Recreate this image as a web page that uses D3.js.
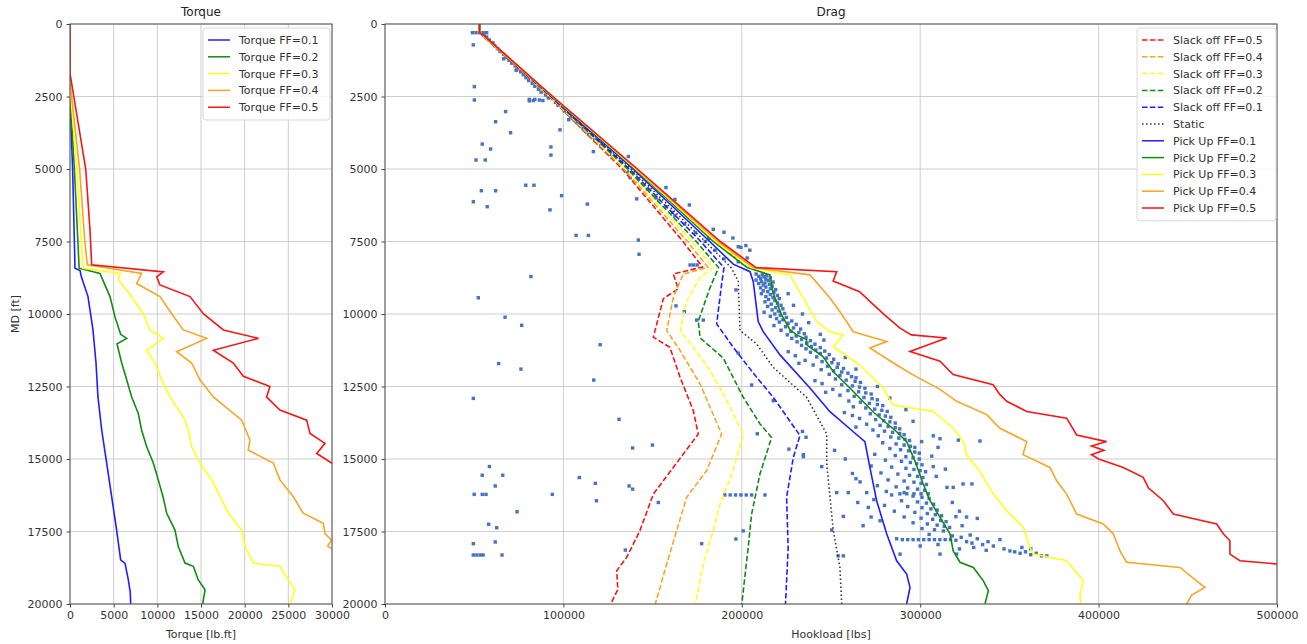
<!DOCTYPE html>
<html>
<head>
<meta charset="utf-8">
<script src="https://cdn.jsdelivr.net/npm/d3@7"></script>
<style>
  body { margin: 0; background: #fff; }
  text { font-family: "DejaVu Sans", sans-serif; }
</style>
</head>
<body>
<svg id="chart" width="1307" height="644"></svg>
<script>
// ---- data: [MD ft, value] ----
const mdTicks = [0, 2500, 5000, 7500, 10000, 12500, 15000, 17500, 20000];
const torqueTicks = [0, 5000, 10000, 15000, 20000, 25000, 30000];
const hookTicks = [0, 100000, 200000, 300000, 400000, 500000];

const torque01 = [[0,0],[2600,0],[5000,300],[7500,500],[8420,570],[8500,1150],[8720,1300],[9400,2060],[10550,2630],[11690,2980],[12860,3200],[14000,3630],[15140,4200],[16300,4770],[17450,5340],[18480,5800],[18600,6300],[19170,6680],[19600,6900],[20000,6950]];
const torque02 = [[0,0],[2400,0],[5000,500],[7500,900],[8420,1050],[8600,3430],[9400,4580],[10100,5150],[10700,5800],[10840,6490],[11030,5380],[11690,5920],[12270,6490],[12860,7060],[13430,7820],[14000,8200],[14580,8780],[15140,9540],[15720,10110],[16300,10650],[16870,11070],[17450,12020],[18020,12400],[18590,13170],[18700,14120],[19170,14690],[19510,15460],[20000,15190]];
const torque03 = [[0,0],[2200,0],[5000,800],[7500,1300],[8420,1500],[8600,5730],[8830,5530],[9400,7060],[9990,8390],[10550,9160],[10840,10690],[11250,8780],[11690,9730],[12270,10500],[12860,11450],[13660,13170],[14000,13550],[14580,13930],[15140,14890],[15720,16220],[16300,17180],[16870,18130],[17450,19660],[18020,20040],[18590,20990],[18700,24050],[19170,25000],[19510,25770],[20000,25200]];
const torque04 = [[0,0],[2000,0],[5000,1100],[7500,1700],[8300,1980],[8600,8200],[8950,7630],[9400,10300],[9990,11640],[10550,12970],[10840,15650],[11300,12210],[11690,13930],[12270,14880],[12860,16410],[13660,19660],[14350,20610],[14690,20400],[15140,23280],[15720,24040],[16300,25570],[16870,26710],[17220,29000],[17570,29200],[17800,29960],[18000,29500],[18200,30500],[20000,33000]];
const torque05 = [[0,0],[1700,0],[5000,1800],[7100,2290],[8300,2480],[8550,10690],[8720,9930],[9000,10300],[9400,13740],[9990,15270],[10550,17560],[10840,21570],[11250,16410],[11690,18700],[12150,19850],[12500,22900],[12860,22500],[13310,24040],[13660,27100],[14120,27480],[14460,29200],[14810,28250],[15140,29960],[15300,30500],[20000,38000]];

const slack05 = [[0,53000],[300,53000],[2500,92000],[5000,133000],[7500,167000],[8380,178000],[8620,161600],[9130,164400],[9470,156000],[10800,150400],[11150,159700],[12180,165400],[13330,172800],[14140,175600],[15290,161600],[16210,150400],[17470,142900],[18390,135500],[18850,129900],[19500,130500],[20000,126500]];
const slack04 = [[0,53000],[300,53000],[2500,92300],[5000,134000],[7500,169500],[8390,181000],[8620,167200],[9430,161600],[10570,157900],[11260,165400],[12410,176600],[14140,188700],[15400,180300],[16320,169100],[17470,163500],[18620,157900],[20000,151500]];
const slack03 = [[0,53000],[300,53000],[2500,92600],[5000,135000],[7500,172000],[8400,184000],[8740,176600],[9550,169100],[10570,165400],[11150,172800],[11950,182200],[12980,191500],[14140,200800],[15400,195200],[16550,187800],[17470,184000],[18620,178400],[20000,174000]];
const slack02 = [[0,53000],[300,53000],[2500,92900],[5000,136000],[7500,174500],[8400,187000],[9090,182200],[10250,175600],[10820,176600],[11520,189600],[12870,200800],[13790,210200],[14260,216700],[15510,210200],[16900,205500],[18040,203600],[20000,200000]];
const slack01 = [[0,53000],[300,53000],[2500,93100],[5000,137000],[7500,177000],[8400,190000],[8970,188700],[10340,185900],[11150,195200],[12180,208300],[12870,217600],[14190,232600],[14940,228900],[16320,225100],[18040,226000],[20000,224500]];
const staticLoad = [[0,53000],[300,53000],[2500,93300],[5000,138000],[7500,179500],[8400,194000],[8850,198000],[10570,199000],[11030,208300],[11840,217600],[12870,236300],[14140,247600],[15170,247600],[17470,251300],[18740,255000],[20000,256000]];
const pickup01 = [[0,53000],[300,53000],[2500,93500],[5000,139000],[7500,182000],[8280,195200],[8540,204600],[8880,206400],[10260,209200],[10610,212000],[11410,221400],[12550,238200],[13370,249400],[14060,262500],[14400,269000],[15290,271800],[16440,275600],[17580,281200],[18510,286800],[18970,292400],[19430,294300],[20000,292400]];
const pickup02 = [[0,53000],[300,53000],[2500,93700],[5000,140000],[7500,184000],[8400,203000],[8650,215800],[9280,217600],[10030,222300],[10540,227000],[10720,230700],[10880,236300],[11050,236000],[11470,245500],[11990,251300],[12550,260600],[13380,273700],[14060,286800],[14400,292400],[15060,297000],[15860,301700],[16440,305500],[17010,311100],[17580,316700],[18170,318500],[18560,322300],[18740,329800],[19200,335400],[19540,338200],[20000,336300]];
const pickup03 = [[0,53000],[300,53000],[2500,93800],[5000,140500],[7500,185500],[8400,205000],[8650,227000],[9450,234500],[10260,242000],[10610,249400],[10720,256900],[11130,251300],[11760,266200],[12550,279200],[13140,284800],[13360,307300],[13940,318500],[14400,324100],[14850,326000],[15430,333500],[16210,341000],[16780,348400],[17350,357800],[18050,361500],[18280,363400],[18510,382100],[19200,391400],[19660,389500],[20000,390000]];
const pickup04 = [[0,53000],[300,53000],[2500,93900],[5000,141000],[7500,186500],[8400,206500],[8650,238200],[9450,249400],[9920,255000],[10610,262500],[10950,281200],[11170,271800],[11760,286800],[12100,296000],[12600,311100],[13010,320400],[13470,337300],[13940,344700],[14400,359700],[14850,357600],[15290,372700],[15750,376500],[16210,382100],[16900,387700],[17240,402600],[17580,408200],[18170,412000],[18560,415700],[18740,445600],[19200,454900],[19430,459600],[19700,452000],[20000,449400]];
const pickup05 = [[0,53000],[300,53000],[400,55500],[2500,94000],[5000,141500],[7500,188000],[8400,208000],[8540,253200],[8860,251200],[9230,266000],[9550,271500],[10030,280000],[10480,288500],[10720,295000],[10830,314800],[11290,294300],[11630,311100],[12090,318500],[12440,340900],[12780,344700],[13010,348500],[13360,359700],[13590,382100],[14170,387700],[14400,404500],[14550,396000],[14700,403000],[14850,396000],[15000,400000],[15290,413800],[15630,425000],[16000,428000],[16440,436300],[16900,441900],[17240,466200],[17580,469900],[17820,473600],[18280,473600],[18510,479200],[18620,500000],[20000,530000]];

// measured hookload points [MD, lbs]
const measured = [
  [300,49000],[300,51000],[300,53000],[300,55000],[300,57000],[350,55500],[450,57000],[550,58500],[650,60500],[750,61500],[850,63000],[950,64500],[1050,66500],[1150,68000],[1250,69500],[1350,71000],[1450,73000],[1550,74000],[1650,76000],[1750,77500],[1850,79000],[1950,80500],[2050,82500],[2150,84000],[2250,86000],[2350,87500],[2450,90000],[2550,91500],[2600,84000],[2620,86500],[2640,88500],[2650,80900],[2700,95500],[1200,66500],[1600,73500],[2000,83000],
  [720,49500],[2160,50100],[2620,50100],[3020,67600],[3370,62000],[3750,70400],[4140,54500],[4310,59200],[4690,51000],[4690,56200],[5750,54000],[5750,62000],[6130,49500],[6300,57300],[5560,78900],[5560,83500],[6410,92500],[5920,99000],[6210,113400],[4240,93000],[4520,93000],[3650,98100],[7290,107100],[7290,114000],[8710,81800],[9440,52300],[2600,80900],[2640,83100],[7940,142400],[6030,141100],[5640,157500],[6050,162500],[6240,170600],[7180,190000],[7640,202300],[7680,198000],[7080,184000],[4570,136400],[4400,116800],[7450,142000],
  [2800,97000],[3000,100500],[3200,104000],[3400,107500],[3600,111000],[3800,114000],[4000,117500],[4200,121000],[4500,126000],[4800,131500],[5100,136000],[5400,141500],[5700,147000],[6000,152000],[6300,157500],[6600,162500],[6900,168000],[7200,174000],[7500,179500],[7800,185000],[8100,190000],[3300,103000],[4100,121500],[5300,137500],[6500,161000],[7400,181500],[7900,194000],[8000,196500],[8200,198000],[8310,171000],[8310,173000],[8310,175000],[7380,195000],[7700,199500],[8070,203000],[7800,204500],
  [8620,208000],[8650,211500],[8680,214000],[8700,209500],[8720,212500],[8750,216000],[8780,210500],[8800,213500],[8830,208000],[8850,215000],[8880,211000],[8900,217500],[8930,213000],[8950,209500],[8980,215500],[9000,212000],
  [9040,217000],[9070,213500],[9100,210500],[9130,216000],[9160,219000],[9200,212000],[9230,214500],[9260,218000],[9300,211000],[9330,216000],[9360,220000],[9400,213500],[9430,217500],[9470,221000],[9500,215000],[9540,218500],[9580,213000],[9620,220000],[9660,216500],[9700,222000],[9740,214500],[9780,219000],[9820,223000],[9860,217000],[9900,220500],[9940,212500],[9980,224000],[10000,218500],[9300,226000],[9700,229000],[10000,234000],
  [10040,221500],[10080,216000],[10120,225000],[10160,219500],[10200,223000],[10240,228000],[10280,221000],[10320,226000],[10360,230500],[10400,218000],[10440,224500],[10480,229000],[10520,233000],[10560,222000],[10600,227500],[10640,232000],[10680,235000],[10720,225500],[10760,230500],[10800,236000],[10840,228000],[10880,233500],[10920,238500],[10960,231000],[11000,236500],[10300,237500],[10700,244000],[10900,246000],
  [11040,241000],[11080,233500],[11120,239000],[11160,244000],[11200,236000],[11240,241500],[11280,246500],[11320,238500],[11360,244000],[11400,249000],[11440,230000],[11480,242000],[11520,247500],[11560,251500],[11600,235500],[11640,245000],[11680,250500],[11720,254000],[11760,240000],[11800,248000],[11840,253500],[11880,257000],[11920,244500],[11960,251500],[12000,256000],[11300,226000],[11700,232000],[11500,258000],[11900,264000],
  [12040,259500],[12080,249000],[12120,255000],[12160,261500],[12200,264000],[12240,252500],[12280,258500],[12320,263500],[12360,266500],[12400,245000],[12440,256000],[12480,262000],[12520,266000],[12560,269000],[12600,251000],[12640,259500],[12680,265500],[12720,269500],[12760,272500],[12800,255000],[12840,263000],[12880,268500],[12920,273000],[12960,276000],[13000,260000],[12300,241000],[12700,247000],[12500,276000],[12900,283000],
  [13040,266500],[13080,271500],[13120,276000],[13160,279000],[13200,262500],[13240,269500],[13280,274500],[13320,278500],[13360,281500],[13400,257500],[13440,272000],[13480,277000],[13520,280500],[13560,283500],[13600,266000],[13640,275000],[13680,279500],[13720,283000],[13760,286000],[13800,270000],[13840,277500],[13880,282000],[13920,286000],[13960,288500],[14000,273500],[13300,292000],[13700,296000],[13500,262000],[13900,264000],
  [14040,280000],[14080,284500],[14120,288500],[14160,291000],[14200,276500],[14240,283500],[14280,288000],[14320,291500],[14360,294000],[14400,300800],[14440,279000],[14480,286500],[14520,291000],[14560,294500],[14600,297000],[14640,283000],[14680,289000],[14720,293500],[14760,297000],[14800,299500],[14840,274500],[14880,286000],[14920,292000],[14960,296000],[15000,299500],[14200,307300],[14300,311100],[14350,321400],[14380,333500],[14600,310000],[14900,306500],
  [14050,234000],[14250,236000],[14850,234500],[14130,208700],[14660,226400],[14920,234500],
  [15040,280500],[15080,289500],[15120,294500],[15160,298000],[15200,301000],[15240,272500],[15280,284000],[15320,292000],[15360,296500],[15400,300000],[15440,303000],[15480,278000],[15520,287500],[15560,294000],[15600,298500],[15640,301500],[15680,264000],[15720,282000],[15760,291000],[15800,296500],[15840,300500],[15880,303500],[15920,276000],[15960,286500],[16000,293000],[15263,307300],[15350,314100],[15600,309000],[15860,324000],[15860,329000],[15980,315000],[15980,318500],
  [16040,298500],[16080,302500],[16120,281000],[16160,291000],[16200,288600],[16200,292500],[16200,296500],[16200,300500],[16200,304500],[16240,284000],[16280,296000],[16320,301000],[16360,305000],[16400,274000],[16440,289500],[16480,298500],[16520,303500],[16560,307500],[16600,280000],[16640,293000],[16680,301000],[16720,306000],[16760,309500],[16800,285500],[16840,297000],[16880,304000],[16920,308500],[16960,312000],[17000,291000],[17040,300500],[17080,307000],[17120,311500],[17160,314500],[17200,296000],[17240,304000],[17280,309500],[17320,313500],[17360,316500],[17400,301000],[17440,308000],[17480,313000],[16500,318000],[16800,322000],[17000,326000],[17050,332000],[17300,323500],[16987,320000],
  [15263,244800],[16160,253200],[16160,259700],[16980,256900],[17450,250400],[15790,266300],[16160,270000],[16670,270900],[17130,277500],[15500,262000],[16500,265000],[17000,272500],[17300,268000],[15000,258000],[14700,252000],
  [17750,286800],[17780,290000],[17780,293000],[17780,296000],[17780,299000],[17780,302000],[17780,305000],[17780,308000],[17780,311000],[17780,314000],[17780,317000],[17800,320000],[17700,323000],[17850,326000],[17900,329000],[17750,332000],[17950,335000],[17850,338000],[17780,344700],[18000,341000],[18050,330000],[18100,322000],[18170,350300],[18200,353000],[18250,356000],[18200,359000],[18300,362000],[18250,365000],[18340,368000],[18340,371000],[18280,288700],[18280,311100],[18280,320400],[17950,310000],[18000,300000],[18100,347000],[18050,357000],[17650,318000],[17600,305000],[17620,328000],[18150,337000],[18340,254000],[18340,256900],[18100,362000],
  [16240,190500],[16240,193500],[16240,196500],[16240,199500],[16240,202500],[16240,205500],[16240,213000],[18310,49500],[18310,51500],[18310,53500],[18310,55000],
  [9170,196700],[9720,163100],[9920,167800],[10210,174700],[10210,178400],[11350,198000],[12450,205500],[12990,217600],[17920,177500],[17760,196700],[17480,200800],[18140,134700],[15640,108900],[15840,117900],[16440,118500],[15930,136800],[16040,138800],[16500,153200],[16820,74000],[17250,58100],[17370,62600],[17920,49500],[17860,61800],[18310,65600],[15260,58500],[15560,54500],[15560,66000],[15930,61800],[16220,50000],[16220,54500],[16220,56600],[16220,93800],[14620,138800],[14520,149900],[13630,131200],[12910,49500],[12280,117000],[11900,76200],[11710,63700],[11060,120600],[10390,76600],[10110,67300]
];

const torqueSeries = [
  { name: "Torque FF=0.1", color: "#1f1fff", values: torque01 },
  { name: "Torque FF=0.2", color: "#138a13", values: torque02 },
  { name: "Torque FF=0.3", color: "#ffff1a", values: torque03 },
  { name: "Torque FF=0.4", color: "#f5a623", values: torque04 },
  { name: "Torque FF=0.5", color: "#f01818", values: torque05 }
];
const dragSeries = [
  { name: "Slack off FF=0.5", color: "#f01818", dash: "5.5,2.4", values: slack05 },
  { name: "Slack off FF=0.4", color: "#f5a623", dash: "5.5,2.4", values: slack04 },
  { name: "Slack off FF=0.3", color: "#ffff1a", dash: "5.5,2.4", values: slack03 },
  { name: "Slack off FF=0.2", color: "#138a13", dash: "5.5,2.4", values: slack02 },
  { name: "Slack off FF=0.1", color: "#1f1fff", dash: "5.5,2.4", values: slack01 },
  { name: "Static", color: "#333333", dash: "1.5,2.5", values: staticLoad },
  { name: "Pick Up FF=0.1", color: "#1f1fff", dash: null, values: pickup01 },
  { name: "Pick Up FF=0.2", color: "#138a13", dash: null, values: pickup02 },
  { name: "Pick Up FF=0.3", color: "#ffff1a", dash: null, values: pickup03 },
  { name: "Pick Up FF=0.4", color: "#f5a623", dash: null, values: pickup04 },
  { name: "Pick Up FF=0.5", color: "#f01818", dash: null, values: pickup05 }
];

const svg = d3.select("#chart");
const plotTop = 24, plotBottom = 604;

const y = d3.scaleLinear().domain([0, 20000]).range([plotTop, plotBottom]);

function drawPanel(id, x, xTicks, title, xLabel) {
  const [x0, x1] = x.range();
  const g = svg.append("g");

  svg.append("clipPath").attr("id", "clip-" + id)
    .append("rect").attr("x", x0).attr("y", plotTop).attr("width", x1 - x0).attr("height", plotBottom - plotTop);

  // grid
  g.selectAll(".vgrid").data(xTicks).enter().append("line")
    .attr("x1", d => x(d)).attr("x2", d => x(d))
    .attr("y1", plotTop).attr("y2", plotBottom)
    .attr("stroke", "#c8c8c8").attr("stroke-width", 0.9);
  g.selectAll(".hgrid").data(mdTicks).enter().append("line")
    .attr("x1", x0).attr("x2", x1)
    .attr("y1", d => y(d)).attr("y2", d => y(d))
    .attr("stroke", "#c8c8c8").attr("stroke-width", 0.9);

  // axes
  const xAxis = g.append("g").attr("transform", `translate(0,${plotBottom})`)
    .call(d3.axisBottom(x).tickValues(xTicks).tickFormat(d3.format("d")).tickSizeInner(3.5).tickSizeOuter(0).tickPadding(4));
  const yAxis = g.append("g").attr("transform", `translate(${x0},0)`)
    .call(d3.axisLeft(y).tickValues(mdTicks).tickFormat(d3.format("d")).tickSizeInner(3.5).tickSizeOuter(0).tickPadding(4));
  [xAxis, yAxis].forEach(a => {
    a.select(".domain").remove();
    a.selectAll("line").attr("stroke", "#444");
    a.selectAll("text").attr("fill", "#333").style("font-size", "11px").style("font-family", "DejaVu Sans");
  });

  svg.append("text").attr("x", (x0 + x1) / 2).attr("y", 16)
    .attr("text-anchor", "middle").style("font-size", "12px").attr("fill", "#222").text(title);
  svg.append("text").attr("x", (x0 + x1) / 2).attr("y", 638)
    .attr("text-anchor", "middle").style("font-size", "11px").attr("fill", "#333").text(xLabel);

  const plot = svg.append("g").attr("clip-path", `url(#clip-${id})`);
  return { g, plot };
}

function drawFrame(x) {
  const [x0, x1] = x.range();
  svg.append("rect").attr("x", x0).attr("y", plotTop).attr("width", x1 - x0).attr("height", plotBottom - plotTop)
    .attr("fill", "none").attr("stroke", "#555").attr("stroke-width", 1);
}

function drawLegend(items, lx, ly, w, rowH) {
  const lg = svg.append("g");
  lg.append("rect").attr("x", lx).attr("y", ly).attr("width", w).attr("height", items.length * rowH + 8)
    .attr("rx", 3).attr("fill", "#fff").attr("fill-opacity", 0.85).attr("stroke", "#d8d8d8");
  items.forEach((s, i) => {
    const cy = ly + 12 + i * rowH;
    lg.append("line").attr("x1", lx + 5).attr("x2", lx + 27).attr("y1", cy).attr("y2", cy)
      .attr("stroke", s.color).attr("stroke-width", 1.5).attr("stroke-dasharray", s.dash || null);
    lg.append("text").attr("x", lx + 36).attr("y", cy + 4)
      .style("font-size", "11px").attr("fill", "#333").text(s.name);
  });
}

// ---- Torque panel ----
const xT = d3.scaleLinear().domain([0, 30000]).range([70, 332]);
const pT = drawPanel("t", xT, torqueTicks, "Torque", "Torque [lb.ft]");
const lineT = d3.line().x(d => xT(d[1])).y(d => y(d[0]));
pT.plot.selectAll("path").data(torqueSeries).enter().append("path")
  .attr("d", d => lineT(d.values)).attr("fill", "none")
  .attr("stroke", d => d.color).attr("stroke-width", 1.6);
drawFrame(xT);
drawLegend(torqueSeries, 203, 28, 127, 16.8);

svg.append("text").attr("transform", `translate(19,${(plotTop + plotBottom) / 2}) rotate(-90)`)
  .attr("text-anchor", "middle").style("font-size", "11px").attr("fill", "#333").text("MD [ft]");

// ---- Drag panel ----
const xD = d3.scaleLinear().domain([0, 500000]).range([385, 1277]);
const pD = drawPanel("d", xD, hookTicks, "Drag", "Hookload [lbs]");
pD.plot.selectAll("rect.pt").data(measured).enter().append("rect")
  .attr("class", "pt")
  .attr("x", d => xD(d[1]) - 1.7).attr("y", d => y(d[0]) - 1.7)
  .attr("width", 3.4).attr("height", 3.4).attr("fill", "#4673c4");
const lineD = d3.line().x(d => xD(d[1])).y(d => y(d[0]));
pD.plot.selectAll("path.drag").data(dragSeries).enter().append("path")
  .attr("class", "drag")
  .attr("d", d => lineD(d.values)).attr("fill", "none")
  .attr("stroke", d => d.color).attr("stroke-width", 1.6)
  .attr("stroke-dasharray", d => d.dash);
drawFrame(xD);
drawLegend(dragSeries, 1137, 28, 139, 16.8);
</script>
</body>
</html>
